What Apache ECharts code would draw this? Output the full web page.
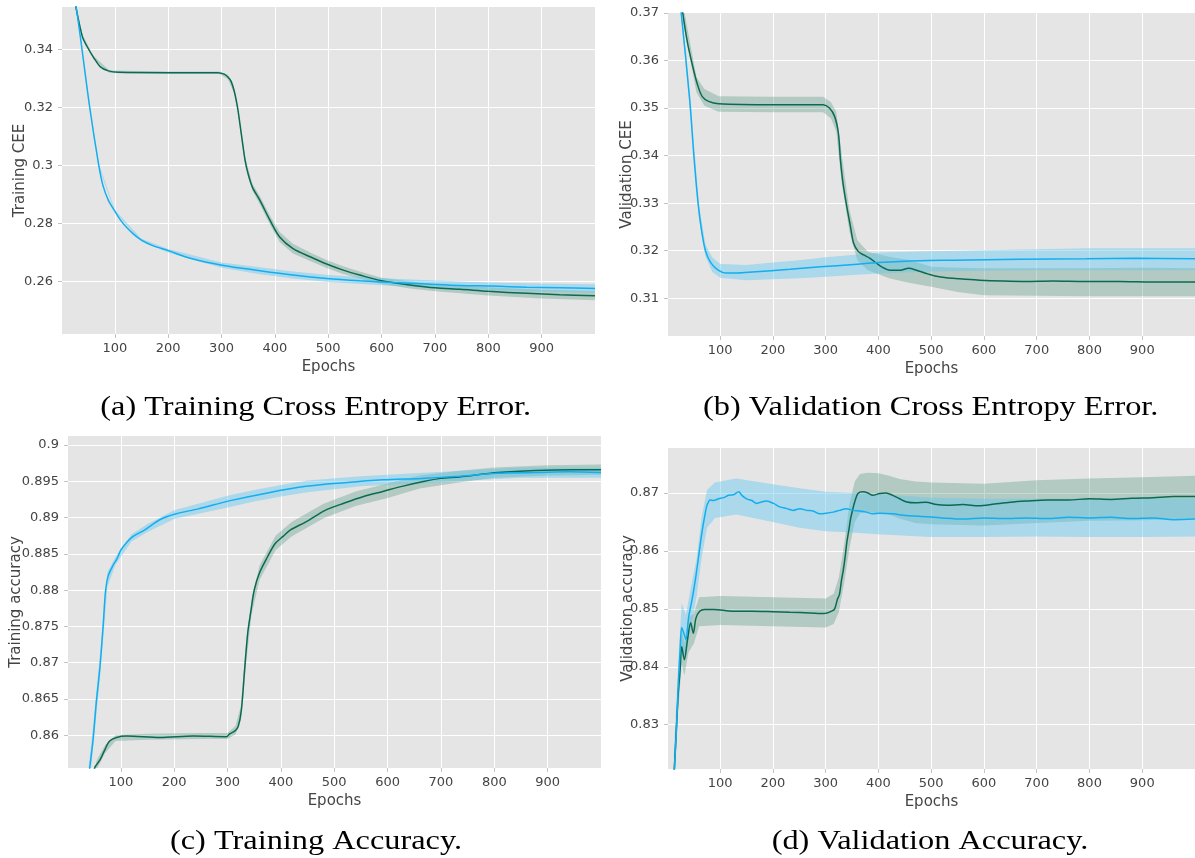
<!DOCTYPE html>
<html>
<head>
<meta charset="utf-8">
<title>Training curves</title>
<script src="https://cdn.jsdelivr.net/npm/echarts@6/dist/echarts.min.js"></script>
<style>
  html, body { margin: 0; padding: 0; background: #ffffff; }
  #chart { width: 1195px; height: 858px; }
</style>
</head>
<body>
<div id="chart"></div>
<script>
// ---------- (a) Training cross entropy error ----------
const ceeTrainSkyEpochs = [20, 28, 53, 70, 78, 88, 100, 110, 121, 135, 150, 170, 200, 243, 301, 372, 434, 497, 559, 622, 684, 747, 809, 872, 934, 1000];
const ceeTrainSky = [0.3600, 0.3540, 0.3200, 0.3000, 0.2930, 0.2880, 0.2843, 0.2814, 0.2789, 0.2764, 0.2743, 0.2725, 0.2707, 0.2680, 0.2657, 0.2638, 0.2623, 0.2611, 0.2603, 0.2597, 0.2592, 0.2587, 0.2585, 0.2581, 0.2579, 0.2577];
const ceeTrainSkyBandEpochs = [20, 28, 53, 70, 100, 150, 200, 300, 372, 434, 500, 600, 700, 800, 900, 1000];
const ceeTrainSkyLow  = [0.3594, 0.3534, 0.3194, 0.2994, 0.2839, 0.2738, 0.2701, 0.2648, 0.2626, 0.2611, 0.2599, 0.2588, 0.2578, 0.2571, 0.2566, 0.2563];
const ceeTrainSkyHigh = [0.3606, 0.3546, 0.3206, 0.3006, 0.2847, 0.2748, 0.2713, 0.2666, 0.2650, 0.2635, 0.2623, 0.2612, 0.2604, 0.2597, 0.2594, 0.2591];

const ceeTrainTealEpochs = [20, 27, 39, 48, 61, 73, 88, 107, 200, 293, 305, 312, 318, 324, 330, 337, 344, 350, 358, 372, 391, 409, 434, 466, 497, 528, 559, 600, 653, 700, 747, 800, 872, 934, 1000];
const ceeTrainTeal = [0.3620, 0.3546, 0.3445, 0.3410, 0.3370, 0.3340, 0.3326, 0.3321, 0.3320, 0.3320, 0.3315, 0.3305, 0.3290, 0.3255, 0.3200, 0.3110, 0.3020, 0.2970, 0.2925, 0.2880, 0.2811, 0.2754, 0.2714, 0.2686, 0.2661, 0.2640, 0.2623, 0.2603, 0.2589, 0.2579, 0.2574, 0.2567, 0.2560, 0.2555, 0.2552];
const ceeTrainTealBandEpochs = [20, 28, 40, 60, 90, 200, 295, 312, 324, 330, 337, 344, 358, 372, 391, 409, 434, 466, 497, 528, 559, 600, 653, 700, 800, 900, 1000];
const ceeTrainTealLow  = [0.3614, 0.3534, 0.3436, 0.3366, 0.3319, 0.3316, 0.3316, 0.3297, 0.3247, 0.3192, 0.3102, 0.3010, 0.2913, 0.2866, 0.2795, 0.2737, 0.2697, 0.2671, 0.2647, 0.2627, 0.2611, 0.2592, 0.2577, 0.2567, 0.2553, 0.2542, 0.2536];
const ceeTrainTealHigh = [0.3626, 0.3546, 0.3448, 0.3378, 0.3327, 0.3324, 0.3324, 0.3313, 0.3263, 0.3208, 0.3118, 0.3030, 0.2937, 0.2894, 0.2827, 0.2771, 0.2731, 0.2701, 0.2675, 0.2653, 0.2635, 0.2614, 0.2601, 0.2591, 0.2581, 0.2572, 0.2568];

// ---------- (b) Validation cross entropy error ----------
const ceeValSkyEpochs = [18, 26, 42, 50, 58, 65, 72, 82, 96, 111, 132, 161, 232, 290, 353, 400, 479, 542, 667, 793, 887, 1000];
const ceeValSky = [0.3780, 0.3700, 0.3520, 0.3400, 0.3300, 0.3240, 0.3200, 0.3175, 0.3159, 0.3153, 0.3153, 0.3155, 0.3161, 0.3166, 0.3171, 0.3175, 0.3179, 0.3180, 0.3182, 0.3183, 0.3184, 0.3183];
const ceeValSkyBandEpochs = [26, 45, 60, 72, 85, 100, 150, 200, 250, 300, 350, 400, 500, 600, 700, 800, 900, 1000];
const ceeValSkyLow  = [0.3690, 0.3465, 0.3265, 0.3188, 0.3155, 0.3143, 0.3138, 0.3140, 0.3142, 0.3145, 0.3149, 0.3152, 0.3156, 0.3158, 0.3159, 0.3159, 0.3159, 0.3159];
const ceeValSkyHigh = [0.3710, 0.3495, 0.3295, 0.3213, 0.3186, 0.3172, 0.3170, 0.3175, 0.3180, 0.3186, 0.3191, 0.3196, 0.3199, 0.3201, 0.3203, 0.3205, 0.3205, 0.3205];

const ceeValTealEpochs = [22, 29, 38, 48, 57, 66, 78, 97, 200, 295, 307, 317, 324, 328, 333, 340, 347, 353, 362, 372, 384, 397, 406, 422, 441, 457, 472, 491, 510, 529, 554, 592, 636, 680, 730, 793, 856, 919, 1000];
const ceeValTeal = [0.3760, 0.3700, 0.3637, 0.3587, 0.3549, 0.3524, 0.3514, 0.3509, 0.3507, 0.3507, 0.3500, 0.3482, 0.3447, 0.3390, 0.3340, 0.3292, 0.3250, 0.3215, 0.3198, 0.3191, 0.3184, 0.3173, 0.3166, 0.3159, 0.3159, 0.3163, 0.3159, 0.3152, 0.3146, 0.3143, 0.3141, 0.3138, 0.3136, 0.3135, 0.3136, 0.3135, 0.3135, 0.3134, 0.3134];
const ceeValTealBandEpochs = [29, 40, 55, 70, 97, 200, 295, 310, 320, 330, 345, 360, 380, 420, 460, 500, 550, 600, 700, 800, 900, 1000];
const ceeValTealLow  = [0.3680, 0.3620, 0.3533, 0.3505, 0.3492, 0.3491, 0.3491, 0.3478, 0.3450, 0.3345, 0.3240, 0.3180, 0.3159, 0.3142, 0.3132, 0.3124, 0.3113, 0.3106, 0.3105, 0.3104, 0.3104, 0.3104];
const ceeValTealHigh = [0.3720, 0.3655, 0.3565, 0.3540, 0.3525, 0.3524, 0.3524, 0.3512, 0.3492, 0.3405, 0.3285, 0.3222, 0.3198, 0.3187, 0.3180, 0.3166, 0.3164, 0.3163, 0.3163, 0.3163, 0.3164, 0.3163];

// ---------- (c) Training accuracy ----------
const accTrainSkyEpochs = [30, 42, 48, 54, 61, 67, 71, 76, 86, 92, 100, 109, 123, 145, 173, 202, 245, 303, 375, 447, 519, 591, 663, 735, 806, 878, 940, 1000];
const accTrainSky = [0.8483, 0.8557, 0.8594, 0.8645, 0.8695, 0.8752, 0.8796, 0.8819, 0.8835, 0.8842, 0.8855, 0.8864, 0.8874, 0.8883, 0.8897, 0.8905, 0.8912, 0.8923, 0.8934, 0.8943, 0.8948, 0.8952, 0.8954, 0.8957, 0.8961, 0.8962, 0.8963, 0.8962];
const accTrainSkyBandEpochs = [30, 45, 60, 75, 90, 120, 150, 200, 250, 300, 350, 400, 450, 550, 650, 750, 850, 1000];
const accTrainSkyLow  = [0.8470, 0.8560, 0.8672, 0.8805, 0.8835, 0.8867, 0.8880, 0.8898, 0.8906, 0.8914, 0.8922, 0.8929, 0.8935, 0.8943, 0.8947, 0.8951, 0.8955, 0.8955];
const accTrainSkyHigh = [0.8496, 0.8590, 0.8704, 0.8825, 0.8846, 0.8877, 0.8891, 0.8910, 0.8920, 0.8930, 0.8938, 0.8945, 0.8951, 0.8957, 0.8961, 0.8965, 0.8969, 0.8969];

const accTrainTealEpochs = [40, 51, 61, 70, 79, 92, 111, 173, 236, 298, 304, 314, 320, 326, 332, 338, 344, 350, 360, 375, 389, 404, 418, 447, 483, 519, 555, 591, 627, 663, 699, 735, 806, 878, 950, 1000];
const accTrainTeal = [0.8500, 0.8555, 0.8566, 0.8580, 0.8592, 0.8597, 0.8599, 0.8597, 0.8599, 0.8598, 0.8602, 0.8606, 0.8612, 0.8635, 0.8690, 0.8742, 0.8772, 0.8800, 0.8824, 0.8846, 0.8864, 0.8874, 0.8883, 0.8894, 0.8910, 0.8920, 0.8929, 0.8936, 0.8943, 0.8949, 0.8954, 0.8956, 0.8962, 0.8965, 0.8966, 0.8966];
const accTrainTealBandEpochs = [40, 55, 70, 90, 150, 250, 300, 315, 325, 335, 345, 360, 390, 420, 480, 540, 600, 660, 730, 800, 900, 1000];
const accTrainTealLow  = [0.8490, 0.8553, 0.8575, 0.8592, 0.8594, 0.8595, 0.8595, 0.8601, 0.8620, 0.8700, 0.8766, 0.8814, 0.8855, 0.8874, 0.8899, 0.8916, 0.8927, 0.8940, 0.8948, 0.8955, 0.8958, 0.8959];
const accTrainTealHigh = [0.8510, 0.8566, 0.8586, 0.8600, 0.8602, 0.8603, 0.8603, 0.8613, 0.8640, 0.8730, 0.8788, 0.8834, 0.8875, 0.8894, 0.8919, 0.8936, 0.8947, 0.8958, 0.8964, 0.8969, 0.8972, 0.8973];

// ---------- (d) Validation accuracy ----------
const accValSkyEpochs = [10, 13, 17, 20, 24, 27, 31, 35, 40, 47, 53, 59, 65, 72, 75, 81, 87, 97, 106, 116, 125, 135, 141, 150, 160, 169, 176, 188, 201, 213, 226, 238, 251, 264, 276, 289, 301, 314, 326, 339, 352, 364, 377, 389, 402, 427, 452, 477, 520, 560, 600, 640, 680, 720, 760, 800, 840, 880, 920, 960, 1000];
const accValSky = [0.8180, 0.8223, 0.8291, 0.8360, 0.8430, 0.8468, 0.8458, 0.8447, 0.8485, 0.8518, 0.8551, 0.8590, 0.8630, 0.8667, 0.8679, 0.8688, 0.8687, 0.8690, 0.8692, 0.8696, 0.8697, 0.8702, 0.8696, 0.8690, 0.8687, 0.8682, 0.8684, 0.8686, 0.8682, 0.8676, 0.8673, 0.8670, 0.8673, 0.8670, 0.8669, 0.8664, 0.8665, 0.8667, 0.8670, 0.8673, 0.8670, 0.8669, 0.8667, 0.8664, 0.8665, 0.8664, 0.8661, 0.8660, 0.8657, 0.8655, 0.8657, 0.8656, 0.8657, 0.8656, 0.8658, 0.8657, 0.8658, 0.8656, 0.8657, 0.8654, 0.8655];
const accValSkyBandEpochs = [12, 20, 27, 35, 45, 55, 65, 75, 90, 130, 200, 250, 300, 350, 400, 500, 600, 700, 800, 900, 1000];
const accValSkyLow  = [0.8200, 0.8320, 0.8420, 0.8420, 0.8470, 0.8520, 0.8590, 0.8640, 0.8657, 0.8663, 0.8650, 0.8640, 0.8634, 0.8632, 0.8629, 0.8624, 0.8624, 0.8625, 0.8624, 0.8624, 0.8625];
const accValSkyHigh = [0.8250, 0.8400, 0.8510, 0.8490, 0.8540, 0.8585, 0.8660, 0.8705, 0.8718, 0.8725, 0.8715, 0.8708, 0.8702, 0.8700, 0.8698, 0.8692, 0.8690, 0.8690, 0.8690, 0.8691, 0.8690];

const accValTealEpochs = [10, 13, 20, 24, 27, 32, 38, 44, 49, 54, 61, 70, 88, 124, 160, 200, 232, 270, 297, 311, 317, 322, 326, 330, 333, 337, 340, 344, 347, 351, 355, 361, 370, 380, 389, 402, 414, 427, 440, 452, 470, 490, 510, 530, 560, 590, 620, 650, 680, 720, 760, 800, 840, 880, 920, 960, 1000];
const accValTeal = [0.8180, 0.8223, 0.8349, 0.8395, 0.8435, 0.8412, 0.8447, 0.8476, 0.8458, 0.8484, 0.8496, 0.8499, 0.8499, 0.8496, 0.8496, 0.8495, 0.8494, 0.8493, 0.8492, 0.8496, 0.8500, 0.8516, 0.8525, 0.8550, 0.8565, 0.8591, 0.8615, 0.8637, 0.8655, 0.8671, 0.8685, 0.8699, 0.8702, 0.8700, 0.8696, 0.8699, 0.8700, 0.8696, 0.8690, 0.8685, 0.8683, 0.8684, 0.8680, 0.8679, 0.8680, 0.8678, 0.8681, 0.8684, 0.8686, 0.8688, 0.8688, 0.8690, 0.8689, 0.8691, 0.8692, 0.8694, 0.8694];
const accValTealBandEpochs = [12, 20, 27, 32, 40, 50, 60, 100, 200, 300, 315, 325, 335, 345, 355, 365, 380, 400, 420, 440, 470, 500, 600, 700, 800, 900, 1000];
const accValTealLow  = [0.8170, 0.8320, 0.8405, 0.8385, 0.8425, 0.8440, 0.8470, 0.8472, 0.8470, 0.8468, 0.8474, 0.8495, 0.8545, 0.8605, 0.8650, 0.8665, 0.8667, 0.8665, 0.8663, 0.8656, 0.8648, 0.8646, 0.8644, 0.8648, 0.8652, 0.8653, 0.8656];
const accValTealHigh = [0.8230, 0.8380, 0.8465, 0.8440, 0.8485, 0.8492, 0.8520, 0.8522, 0.8520, 0.8518, 0.8526, 0.8555, 0.8612, 0.8680, 0.8720, 0.8733, 0.8735, 0.8734, 0.8730, 0.8724, 0.8720, 0.8718, 0.8716, 0.8722, 0.8725, 0.8727, 0.8730];

// ---------- axis settings ----------
const yTitles = ['Training CEE', 'Validation CEE', 'Training accuracy', 'Validation accuracy'];
const xTitle = 'Epochs';
const yRanges = [[0.2420, 0.3546], [0.30205, 0.37], [0.85549, 0.90124], [0.82235, 0.87777]];
const ySteps = [0.02, 0.01, 0.005, 0.01];
const captions = ['(a) Training Cross Entropy Error.', '(b) Validation Cross Entropy Error.', '(c) Training Accuracy.', '(d) Validation Accuracy.'];

// ---------- styling ----------
const SKY = '#12aef0';
const TEAL = '#0b6a52';
const SKY_FILL = 'rgba(100,200,240,0.45)';
const TEAL_FILL = 'rgba(60,140,110,0.30)';
const TICK_FONT = 'DejaVu Sans';
const LABEL_COLOR = '#444';

const grids = [
  { left: 62,  right: 600, top: 7,   bottom: 524 },
  { left: 668, right: -1,  top: 13,  bottom: 522 },
  { left: 68,  right: 594, top: 436, bottom: 90 },
  { left: 668, right: -1,  top: 448, bottom: 89 }
];
const yNameGaps = [34, 33, 44, 32];
const captionPos = [[315.7, 408], [930.7, 408], [316, 842], [930, 842]];

function pairs(xs, ys) { return xs.map((x, i) => [x, ys[i]]); }

// Shaded spread band: one closed outline along the upper edge and back along the lower edge.
function bandSeries(idx, xs, lo, hi, fill) {
  return {
    type: 'custom', xAxisIndex: idx, yAxisIndex: idx,
    coordinateSystem: 'cartesian2d', clip: true, silent: true, z: 1,
    encode: { x: 0, y: [1, 2] },
    data: xs.map((x, i) => [x, lo[i], hi[i]]),
    renderItem: function (params, api) {
      if (params.dataIndex !== 0) return null;
      const upper = xs.map((x, i) => api.coord([x, hi[i]]));
      const lower = xs.map((x, i) => api.coord([x, lo[i]])).reverse();
      return {
        type: 'polygon',
        shape: { points: upper.concat(lower) },
        style: { fill: fill, stroke: null }
      };
    }
  };
}

function curveSeries(idx, xs, ys, color) {
  return {
    type: 'line', xAxisIndex: idx, yAxisIndex: idx,
    data: pairs(xs, ys), symbol: 'none', smooth: 0.3, silent: true, z: 3,
    lineStyle: { color: color, width: 1.5 }
  };
}

const panels = [
  { sky: [ceeTrainSkyEpochs, ceeTrainSky], skyBand: [ceeTrainSkyBandEpochs, ceeTrainSkyLow, ceeTrainSkyHigh],
    teal: [ceeTrainTealEpochs, ceeTrainTeal], tealBand: [ceeTrainTealBandEpochs, ceeTrainTealLow, ceeTrainTealHigh] },
  { sky: [ceeValSkyEpochs, ceeValSky], skyBand: [ceeValSkyBandEpochs, ceeValSkyLow, ceeValSkyHigh],
    teal: [ceeValTealEpochs, ceeValTeal], tealBand: [ceeValTealBandEpochs, ceeValTealLow, ceeValTealHigh] },
  { sky: [accTrainSkyEpochs, accTrainSky], skyBand: [accTrainSkyBandEpochs, accTrainSkyLow, accTrainSkyHigh],
    teal: [accTrainTealEpochs, accTrainTeal], tealBand: [accTrainTealBandEpochs, accTrainTealLow, accTrainTealHigh] },
  { sky: [accValSkyEpochs, accValSky], skyBand: [accValSkyBandEpochs, accValSkyLow, accValSkyHigh],
    teal: [accValTealEpochs, accValTeal], tealBand: [accValTealBandEpochs, accValTealLow, accValTealHigh] }
];

const series = [];
panels.forEach((p, i) => {
  series.push(bandSeries(i, p.tealBand[0], p.tealBand[1], p.tealBand[2], TEAL_FILL));
  series.push(bandSeries(i, p.skyBand[0], p.skyBand[1], p.skyBand[2], SKY_FILL));
});
panels.forEach((p, i) => {
  series.push(curveSeries(i, p.teal[0], p.teal[1], TEAL));
  series.push(curveSeries(i, p.sky[0], p.sky[1], SKY));
});

const xAxes = grids.map((g, i) => ({
  type: 'value', gridIndex: i, min: 1, max: 1000,
  minInterval: 100, maxInterval: 100,
  name: xTitle, nameLocation: 'middle', nameGap: 26, nameMoveOverlap: false,
  nameTextStyle: { fontFamily: TICK_FONT, fontSize: 15, color: LABEL_COLOR },
  axisLine: { show: false },
  axisTick: { show: true, length: 4, lineStyle: { color: '#c4c4c4' } },
  axisLabel: { fontFamily: TICK_FONT, fontSize: 13, color: LABEL_COLOR, margin: 8, showMinLabel: false, showMaxLabel: false },
  splitLine: { show: true, showMinLine: false, showMaxLine: false, lineStyle: { color: '#ffffff', width: 1 } }
}));

const yAxes = grids.map((g, i) => ({
  type: 'value', gridIndex: i, min: yRanges[i][0], max: yRanges[i][1],
  minInterval: ySteps[i], maxInterval: ySteps[i],
  name: yTitles[i], nameLocation: 'middle', nameGap: yNameGaps[i], nameMoveOverlap: false,
  nameTextStyle: { fontFamily: TICK_FONT, fontSize: 15, color: LABEL_COLOR },
  axisLine: { show: false },
  axisTick: { show: true, length: 4, lineStyle: { color: '#c4c4c4' } },
  axisLabel: { fontFamily: TICK_FONT, fontSize: 13, color: LABEL_COLOR, margin: 9, showMinLabel: false, showMaxLabel: i === 1 },
  splitLine: { show: true, showMinLine: false, showMaxLine: false, lineStyle: { color: '#ffffff', width: 1 } }
}));

const graphic = captions.map((t, i) => ({
  type: 'text', x: captionPos[i][0], y: captionPos[i][1], scaleX: 1.155, silent: true,
  style: {
    text: t, font: '28px "Liberation Serif"', fill: '#000',
    align: 'center', verticalAlign: 'middle', textAlign: 'center', textVerticalAlign: 'middle'
  }
}));

const chart = echarts.init(document.getElementById('chart'), null, { renderer: 'canvas' });
chart.setOption({
  animation: false,
  backgroundColor: '#ffffff',
  grid: grids.map(g => Object.assign({ show: true, backgroundColor: '#e5e5e5', borderWidth: 0, containLabel: false }, g)),
  xAxis: xAxes,
  yAxis: yAxes,
  series: series,
  graphic: graphic
});
</script>
</body>
</html>
